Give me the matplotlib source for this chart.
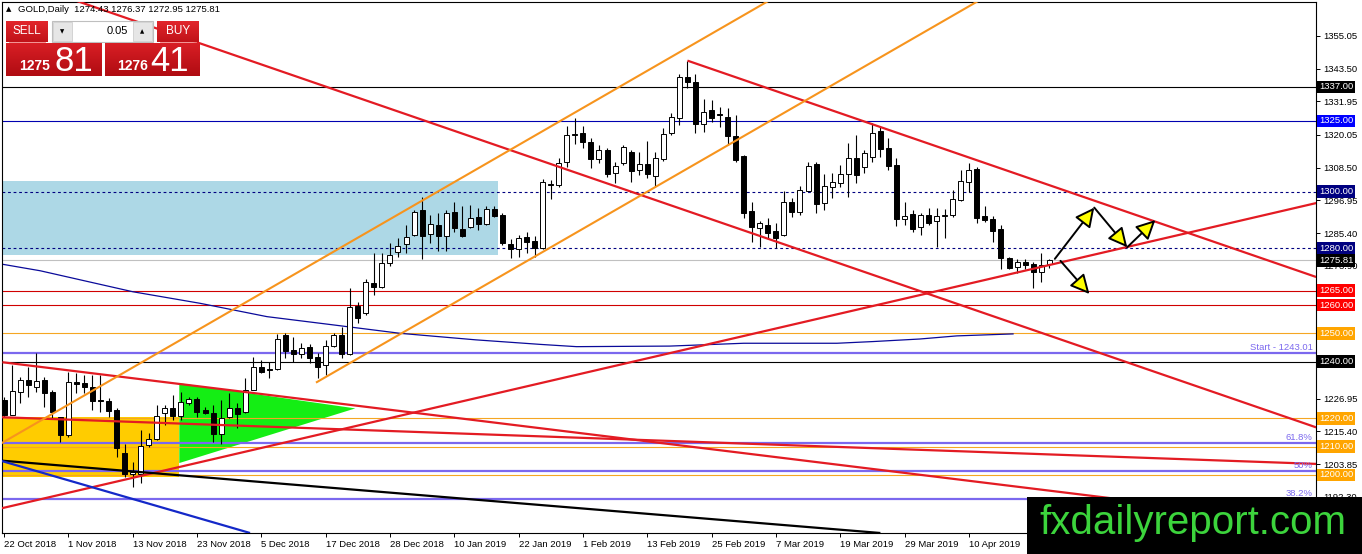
import numpy as np
import matplotlib
matplotlib.use('Agg')
import matplotlib.pyplot as plt
from matplotlib.patches import Rectangle, Polygon
import matplotlib.transforms as mtransforms

plt.rcParams['font.family'] = ['Liberation Sans', 'DejaVu Sans']

# ---------------- data ----------------
symbol = 'GOLD,Daily'
date_labels = ['22 Oct 2018', '1 Nov 2018', '13 Nov 2018', '23 Nov 2018', '5 Dec 2018',
               '17 Dec 2018', '28 Dec 2018', '10 Jan 2019', '22 Jan 2019', '1 Feb 2019',
               '13 Feb 2019', '25 Feb 2019', '7 Mar 2019', '19 Mar 2019', '29 Mar 2019',
               '10 Apr 2019']
date_tick_idx = [0, 8, 16, 24, 32, 40, 48, 56, 64, 72, 80, 88, 96, 104, 112, 120]

opens = [1226.5, 1221.2, 1229.4, 1233.5, 1231.2, 1233.5, 1229.4, 1220.6, 1214.1, 1232.7,
         1232.6, 1230.9, 1226.5, 1226.1, 1222.9, 1207.6, 1200.5, 1200.5, 1210.4, 1212.7,
         1221.9, 1223.5, 1220.9, 1225.3, 1226.7, 1222.9, 1221.7, 1214.4, 1220.3, 1223.7,
         1222.3, 1230.0, 1238.2, 1237.5, 1237.3, 1249.4, 1244.1, 1242.7, 1245.1, 1241.5,
         1238.8, 1245.5, 1249.4, 1242.7, 1259.7, 1257.1, 1267.9, 1266.5, 1275.0, 1278.7,
         1281.4, 1284.7, 1293.6, 1285.1, 1288.3, 1284.4, 1292.8, 1286.7, 1287.7, 1291.0,
         1288.6, 1293.8, 1291.8, 1281.4, 1279.7, 1283.9, 1282.6, 1280.0, 1302.9, 1302.4,
         1310.6, 1320.0, 1320.7, 1317.5, 1311.5, 1314.8, 1306.5, 1310.0, 1313.9, 1307.7,
         1309.7, 1305.6, 1311.5, 1320.7, 1325.9, 1340.4, 1338.7, 1324.0, 1328.9, 1327.6,
         1326.3, 1319.8, 1312.7, 1293.2, 1287.1, 1288.3, 1286.2, 1284.7, 1296.5, 1292.8,
         1300.4, 1309.7, 1295.9, 1301.8, 1303.2, 1306.2, 1312.0, 1308.6, 1312.2, 1321.6,
         1315.4, 1309.5, 1290.3, 1292.2, 1287.5, 1291.8, 1289.5, 1291.6, 1291.8, 1297.1,
         1303.6, 1308.0, 1291.4, 1290.3, 1286.9, 1276.5, 1273.3, 1275.3, 1274.5, 1271.8,
         1274.43]
highs = [1227.6, 1238.8, 1234.7, 1238.2, 1242.9, 1234.7, 1230.0, 1220.6, 1236.5, 1235.9,
         1235.3, 1235.3, 1235.3, 1227.0, 1223.5, 1211.1, 1204.7, 1215.9, 1214.7, 1224.7,
         1224.7, 1228.2, 1229.4, 1227.6, 1227.6, 1224.1, 1224.7, 1226.5, 1228.8, 1225.3,
         1234.1, 1241.8, 1240.6, 1240.0, 1249.8, 1250.0, 1248.8, 1246.7, 1246.2, 1242.9,
         1247.6, 1250.0, 1252.4, 1265.9, 1261.2, 1269.1, 1278.5, 1278.5, 1281.8, 1283.6,
         1288.3, 1293.6, 1298.3, 1291.8, 1292.4, 1293.6, 1296.5, 1295.0, 1295.3, 1294.2,
         1294.8, 1294.8, 1292.4, 1283.2, 1284.7, 1285.9, 1284.2, 1304.5, 1304.2, 1311.8,
         1323.2, 1326.0, 1323.2, 1318.9, 1316.5, 1315.4, 1310.6, 1316.5, 1314.8, 1314.2,
         1317.9, 1314.2, 1322.4, 1327.7, 1341.6, 1346.3, 1341.6, 1332.7, 1332.4, 1330.1,
         1329.5, 1327.1, 1312.9, 1296.5, 1289.5, 1290.6, 1289.1, 1300.4, 1297.7, 1302.1,
         1310.6, 1310.6, 1306.2, 1306.5, 1309.5, 1317.1, 1320.0, 1314.8, 1324.4, 1323.0,
         1318.9, 1311.8, 1296.5, 1293.6, 1292.4, 1294.2, 1294.2, 1293.8, 1300.6, 1307.7,
         1310.3, 1308.9, 1295.0, 1291.4, 1288.3, 1277.1, 1276.1, 1276.1, 1275.3, 1278.3,
         1276.37]
lows = [1220.6, 1221.0, 1225.3, 1227.6, 1229.4, 1224.1, 1220.0, 1211.7, 1213.5, 1228.8,
        1228.8, 1222.9, 1222.3, 1220.6, 1206.4, 1199.4, 1195.8, 1197.0, 1210.0, 1212.3,
        1217.6, 1219.4, 1219.4, 1224.7, 1220.3, 1221.5, 1211.7, 1211.1, 1220.0, 1216.4,
        1222.0, 1230.0, 1235.9, 1234.1, 1237.0, 1241.2, 1240.0, 1241.2, 1239.6, 1234.1,
        1235.3, 1245.3, 1241.2, 1242.4, 1253.5, 1256.5, 1263.5, 1265.9, 1273.8, 1277.1,
        1278.3, 1284.4, 1276.2, 1281.8, 1279.2, 1279.2, 1285.9, 1284.0, 1287.1, 1286.5,
        1288.3, 1291.0, 1281.2, 1276.5, 1277.1, 1278.3, 1277.1, 1279.7, 1297.3, 1301.8,
        1308.9, 1316.8, 1315.6, 1308.3, 1310.3, 1305.3, 1303.0, 1309.5, 1303.6, 1305.9,
        1304.8, 1301.8, 1311.0, 1320.1, 1323.6, 1336.5, 1320.7, 1321.2, 1324.8, 1323.0,
        1316.5, 1310.6, 1290.6, 1282.4, 1280.6, 1283.2, 1280.0, 1284.2, 1291.2, 1291.8,
        1300.1, 1292.4, 1293.6, 1297.7, 1301.8, 1298.3, 1303.0, 1306.5, 1310.6, 1312.4,
        1307.7, 1287.9, 1288.3, 1285.9, 1284.7, 1288.3, 1280.4, 1283.6, 1291.0, 1296.9,
        1300.0, 1289.1, 1289.4, 1282.4, 1272.6, 1272.6, 1271.2, 1272.6, 1265.9, 1268.3,
        1272.95]
closes = [1221.2, 1229.6, 1233.7, 1231.8, 1233.2, 1228.8, 1222.3, 1214.1, 1232.7, 1232.2,
          1230.9, 1226.2, 1226.0, 1222.7, 1209.4, 1200.5, 1201.0, 1210.2, 1212.8, 1220.9,
          1223.5, 1220.8, 1225.6, 1226.7, 1222.3, 1221.7, 1214.4, 1220.2, 1223.7, 1221.5,
          1230.0, 1238.0, 1236.5, 1237.2, 1247.9, 1243.9, 1242.7, 1245.0, 1241.4, 1238.0,
          1245.5, 1249.5, 1242.7, 1259.2, 1255.3, 1268.0, 1266.5, 1275.0, 1277.7, 1280.9,
          1283.9, 1293.0, 1284.4, 1288.5, 1284.4, 1292.4, 1287.1, 1284.4, 1290.7, 1288.6,
          1293.8, 1291.4, 1281.8, 1279.7, 1283.6, 1282.4, 1280.0, 1303.6, 1302.5, 1310.3,
          1319.9, 1320.4, 1317.4, 1311.5, 1314.8, 1306.3, 1309.1, 1315.9, 1307.5, 1309.7,
          1306.2, 1311.8, 1320.3, 1326.3, 1340.4, 1338.7, 1324.0, 1328.1, 1326.2, 1327.2,
          1319.7, 1311.3, 1292.6, 1287.7, 1288.9, 1285.6, 1283.6, 1296.5, 1293.0, 1300.6,
          1309.1, 1295.7, 1302.0, 1303.3, 1306.2, 1311.8, 1305.9, 1313.6, 1320.9, 1315.0,
          1309.1, 1290.3, 1291.4, 1286.7, 1291.8, 1288.9, 1291.4, 1291.7, 1297.3, 1303.8,
          1307.7, 1290.6, 1290.0, 1286.3, 1276.5, 1273.2, 1275.1, 1274.1, 1271.8, 1274.1,
          1275.81]
ask_price = 1276.41
lot_size = 0.05

# moving average (bar index, value)
ma_idx = [-0.2, 4.5, 16.0, 24.4, 32.7, 40.9, 49.3, 58.7, 66.7, 71.2, 82.8, 92.0, 103.6,
          108.1, 113.9, 118.5, 125.5]
ma_val = [1274.4, 1272.1, 1264.7, 1260.6, 1255.9, 1253.0, 1250.0, 1247.7, 1246.1, 1245.3,
          1245.5, 1246.5, 1246.5, 1247.1, 1248.0, 1249.1, 1249.8]

# right-axis price ticks (those hidden behind level labels are left out)
ytick_vals = [1355.05, 1343.50, 1331.95, 1320.05, 1308.50, 1296.95, 1285.40, 1273.90,
              1226.95, 1215.40, 1203.85, 1192.30]

# horizontal levels
h_levels = [1337.00, 1325.00, 1300.00, 1280.00, 1275.81, 1265.00, 1260.00, 1250.00,
            1240.00, 1220.00, 1210.00, 1200.00]
h_colors = ['black', '#0000B0', '#000080', '#000080', '#C0C0C0', '#D00000', '#D00000',
            '#F5A623', 'black', '#F5A623', '#F5A623', '#F5A623']
h_dashed = [False, False, True, True, False, False, False, False, False, False, False, False]
h_label_colors = ['black', '#0000FF', '#000080', '#000080', 'black', '#FF0000', '#FF0000',
                  '#FFA500', 'black', '#FFA500', '#FFA500', '#FFA500']

# fibonacci levels
fib_levels = [1243.01, 1211.2, 1201.3, 1191.4]
fib_names = ['Start - 1243.01', '61.8%', '50%', '38.2%']

# trend lines: ((idx0, price0), (idx1, price1), colour)
trend_lines = [
    ((-0.5, 1376.7), (163.2, 1216.8), '#E31B23'),
    ((85.0, 1346.3), (163.2, 1269.9), '#E31B23'),
    ((-0.5, 1188.1), (163.2, 1296.0), '#E31B23'),
    ((-0.2, 1239.8), (163.2, 1182.9), '#E31B23'),
    ((-0.5, 1220.4), (163.2, 1203.9), '#E31B23'),
    ((-0.5, 1205.1), (109.0, 1179.5), 'black'),
    ((-0.5, 1205.1), (30.6, 1179.5), '#1428C8'),
    ((-0.5, 1210.9), (95.3, 1367.75), '#F7941D'),
    ((38.8, 1232.6), (121.4, 1367.75), '#F7941D'),
]

# rectangles (idx0, idx1, price_low, price_high, colour)
rects = [(-0.5, 61.4, 1277.7, 1303.8, '#ADD8E6'),
         (-0.5, 21.8, 1199.2, 1220.3, '#FFCC00')]
triangle = [(21.8, 1232.4), (21.8, 1204.2), (43.7, 1223.5)]

# projection arrows
arrows = [((130.7, 1276.3), (135.6, 1294.4)),
          ((135.6, 1294.4), (139.7, 1280.4)),
          ((139.7, 1280.4), (143.2, 1290.0)),
          ((131.4, 1275.6), (135.0, 1263.9))]

# ---------------- figure ----------------
W, H = 1362, 554
fig = plt.figure(figsize=(W / 100, H / 100), dpi=100)
fig.patch.set_facecolor('white')
ax = fig.add_axes([2 / W, 21 / H, 1314 / W, 531 / H])
ax.set_xlim(-0.25, 163.18)
ax.set_ylim(1179.5, 1367.0)

for x0, x1, p0, p1, col in rects:
    ax.add_patch(Rectangle((x0, p0), x1 - x0, p1 - p0, fc=col, ec='none', zorder=1))
ax.add_patch(Polygon(triangle, closed=True, fc='#14EE14', ec='none', zorder=1))

for lvl, col, d in zip(h_levels, h_colors, h_dashed):
    if d:
        ax.axhline(lvl, color=col, lw=0.8, dashes=(2.5, 2.5), zorder=1.5)
    else:
        ax.axhline(lvl, color=col, lw=0.8, zorder=1.5)

for lvl in fib_levels:
    ax.axhline(lvl, color='#7B68EE', lw=1.6, zorder=1.6)

ax.plot(ma_idx, ma_val, color='#0A0A9A', lw=0.9, zorder=2)

# candles
n = len(opens)
xs = np.arange(n)
o = np.array(opens); h = np.array(highs); l = np.array(lows); c = np.array(closes)
ax.vlines(xs, l, h, color='black', lw=0.8, zorder=3)
bull = c >= o
bottoms = np.minimum(o, c)
heights = np.maximum(np.abs(c - o), 0.3)
ax.bar(xs[bull], heights[bull], bottom=bottoms[bull], width=0.62, color='white',
       edgecolor='black', linewidth=0.7, zorder=3.2)
ax.bar(xs[~bull], heights[~bull], bottom=bottoms[~bull], width=0.62, color='black',
       edgecolor='black', linewidth=0.7, zorder=3.2)

for (x0, p0), (x1, p1), col in trend_lines:
    lw = 1.6 if col != '#F7941D' else 1.5
    ax.plot([x0, x1], [p0, p1], color=col, lw=lw, zorder=4, solid_capstyle='butt')

for start, end in arrows:
    ax.annotate('', xy=end, xytext=start,
                arrowprops=dict(arrowstyle='-|>,head_length=0.9,head_width=0.45',
                                mutation_scale=13, lw=1.4, ec='black', fc='#FFFF00',
                                shrinkA=0, shrinkB=0), zorder=5)

# axes styling
for s in ax.spines.values():
    s.set_color('black'); s.set_linewidth(0.8)
ax.yaxis.tick_right()
ax.set_yticks(ytick_vals)
ax.set_yticklabels([f'{v:.2f}' for v in ytick_vals], fontsize=6.8)
ax.set_xticks(date_tick_idx)
ax.set_xticklabels(date_labels, fontsize=6.8, ha='left')
ax.tick_params(axis='y', direction='out', length=3, width=0.7, pad=2)
ax.tick_params(axis='x', direction='out', length=3, width=0.7, pad=2)

trans = mtransforms.blended_transform_factory(ax.transAxes, ax.transData)
for lvl, col in zip(h_levels, h_label_colors):
    ax.text(1.0022, lvl, f'{lvl:.2f}', transform=trans, ha='left', va='center',
            fontsize=6.8, color='white', clip_on=False, zorder=6,
            bbox=dict(boxstyle='square,pad=0.2', fc=col, ec='none'))

for lvl, name in zip(fib_levels, fib_names):
    ax.text(0.9975, lvl + 0.4, name, transform=trans, ha='right', va='bottom',
            fontsize=6.8, color='#7B68EE', zorder=6)

# ---------------- overlay (pixel coordinates) ----------------
ov = fig.add_axes([0, 0, 1, 1], zorder=10)
ov.set_xlim(0, W); ov.set_ylim(H, 0); ov.axis('off')

def grad_rect(x0, y0, x1, y1, top, bot):
    g = np.linspace(0, 1, 32)[:, None, None]
    ctop = np.array(matplotlib.colors.to_rgb(top))
    cbot = np.array(matplotlib.colors.to_rgb(bot))
    img = ctop * (1 - g) + cbot * g
    ov.imshow(img, extent=(x0, x1, y1, y0), aspect='auto', interpolation='bilinear', zorder=2)

header = f'{symbol}  {opens[-1]:.2f} {highs[-1]:.2f} {lows[-1]:.2f} {closes[-1]:.2f}'
ov.text(6, 9.5, '\u25B2', fontsize=5, ha='left', va='center', color='black',
        family=['DejaVu Sans'])
ov.text(18, 9.5, header, fontsize=6.8, ha='left', va='center', color='black')

# SELL / BUY buttons
grad_rect(6, 21, 48, 42, '#E2262C', '#C01218')
grad_rect(157, 21, 199, 42, '#E2262C', '#C01218')
ov.plot([9, 45], [41.5, 41.5], color='#F08080', lw=0.6, zorder=3)
ov.plot([160, 196], [41.5, 41.5], color='#F08080', lw=0.6, zorder=3)
ov.text(27, 31, 'SELL', fontsize=8.5, color='white', ha='center', va='center', zorder=4)
ov.text(178, 31, 'BUY', fontsize=8.5, color='white', ha='center', va='center', zorder=4)
# lot spinner
ov.add_patch(Rectangle((52, 21), 101, 21, fc='white', ec='#BFBFBF', lw=0.8, zorder=2))
ov.add_patch(Rectangle((53, 22), 19, 19, fc='#E6E6E6', ec='#CFCFCF', lw=0.6, zorder=3))
ov.add_patch(Rectangle((133, 22), 19, 19, fc='#E6E6E6', ec='#CFCFCF', lw=0.6, zorder=3))
ov.text(62.5, 31.5, '\u25BC', fontsize=4, ha='center', va='center', family=['DejaVu Sans'], zorder=4)
ov.text(142.5, 31.5, '\u25B2', fontsize=4, ha='center', va='center', family=['DejaVu Sans'], zorder=4)
ov.text(128, 31, f'{lot_size:.2f}', fontsize=8, ha='right', va='center', color='black', zorder=4)
# price boxes
grad_rect(6, 43, 101.5, 76, '#D81E25', '#B00C12')
grad_rect(104.5, 43, 199, 76, '#D81E25', '#B00C12')
bid_s = f'{closes[-1]:.2f}'
ask_s = f'{ask_price:.2f}'
ov.text(50, 70, bid_s[:4], fontsize=10, fontweight='bold', color='white', ha='right',
        va='baseline', zorder=4)
ov.text(55, 71, bid_s[5:], fontsize=25, color='white', ha='left', va='baseline', zorder=4)
ov.text(148, 70, ask_s[:4], fontsize=10, fontweight='bold', color='white', ha='right',
        va='baseline', zorder=4)
ov.text(150, 71, ask_s[5:], fontsize=25, color='white', ha='left', va='baseline', zorder=4)

# watermark
ov.add_patch(Rectangle((1027, 497), W - 1027, H - 497, fc='black', ec='none', zorder=2))
ov.text(1193, 523, 'fxdailyreport.com', fontsize=29, color='#3CD43C', ha='center',
        va='center', zorder=3)

fig.savefig('out.png', dpi=100)
